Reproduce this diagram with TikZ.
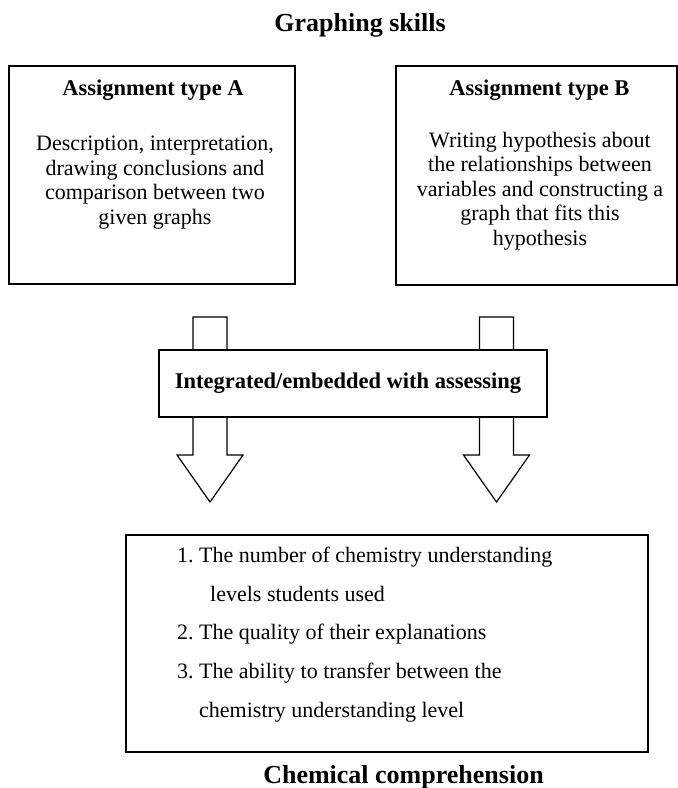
\documentclass[tikz,border=0pt]{standalone}
\usepackage{fontspec}
\setmainfont{Liberation Serif}
\frenchspacing
\begin{document}
\begin{tikzpicture}[x=1pt,y=-1pt,
  box/.style={draw, line width=1.3pt, inner sep=0pt, fill=white},
  txt/.style={inner sep=0pt, font=\fontsize{22}{24.5}\selectfont\frenchspacing, align=center},
  hd/.style={inner sep=0pt, font=\bfseries\fontsize{22.5}{26}\selectfont},
  big/.style={inner sep=0pt, font=\bfseries\fontsize{26}{30}\selectfont},
  blockarrow/.style={draw, line width=1.2pt, fill=white, line join=miter}]
\useasboundingbox (0,0) rectangle (678,788);

% title
\node[big] (title) at (360,25) {Graphing skills};

% assignment boxes
\node[box, minimum width=286pt, minimum height=218pt] (boxA) at (152,175) {};
\node[box, minimum width=281pt, minimum height=219pt] (boxB) at (536.5,175.5) {};
\node[hd] (hA) at (153,90) {Assignment type A};
\node[txt] (tA) at (155,182.5) {Description, interpretation,\\drawing conclusions and\\comparison between two\\given graphs};
\node[hd] (hB) at (539.5,90) {Assignment type B};
\node[txt] (tB) at (540,191) {Writing hypothesis about\\the relationships between\\variables and constructing a\\graph that fits this\\hypothesis};

% block arrows
\coordinate (arrL) at (210,317);
\coordinate (arrR) at (496.5,317);
\draw[blockarrow] (arrL) ++(-17,0) -- ++(0,138) -- ++(-16,0) -- ++(33,47) -- ++(33,-47) -- ++(-16,0) -- ++(0,-138) -- cycle;
\draw[blockarrow] (arrR) ++(-17,0) -- ++(0,138) -- ++(-16,0) -- ++(33,47) -- ++(33,-47) -- ++(-16,0) -- ++(0,-138) -- cycle;

% middle box
\node[box, minimum width=388pt, minimum height=67pt] (integ) at (353,383.5) {};
\node[hd] (tI) at (348,383) {Integrated/embedded with assessing};

% bottom box
\node[box, minimum width=522pt, minimum height=217pt] (comp) at (387,643.5) {};
\node[txt, align=left, font=\fontsize{22}{38.75}\selectfont\frenchspacing, anchor=west] (list) at (177,634.5)
  {1. The number of chemistry understanding\\
   \hspace*{33pt}levels students used\\
   2. The quality of their explanations\\
   3. The ability to transfer between the\\
   \hspace*{22pt}chemistry understanding level};
\node[big] (chem) at (403.5,777) {Chemical comprehension};
\end{tikzpicture}
\end{document}
